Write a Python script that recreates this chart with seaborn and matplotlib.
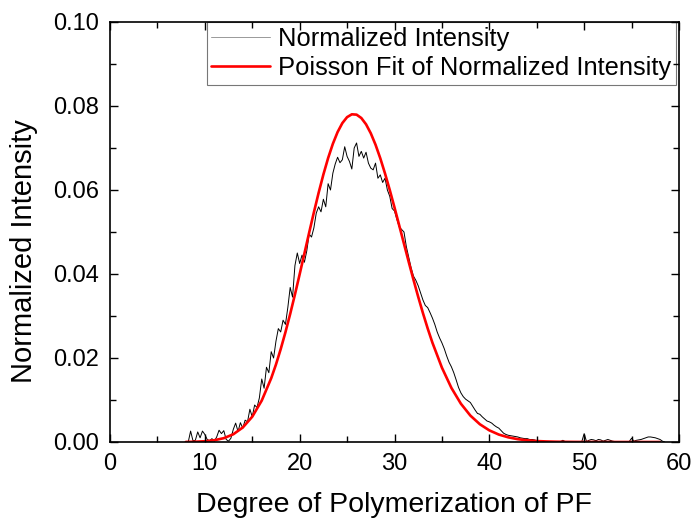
import numpy as np
import pandas as pd
import matplotlib
matplotlib.use("Agg")
import matplotlib.pyplot as plt
import seaborn as sns
from matplotlib.ticker import MultipleLocator

# ---- data ----
dp_measured = np.arange(8.25, 58.51, 0.25)
intensity = [
    0.0000, 0.0026, 0.0003, 0.0004, 0.0024, 0.0010, 0.0026, 0.0018,   # 8.25 - 10.0
    0.0006, 0.0003, 0.0008, 0.0002, 0.0012, 0.0028, 0.0020, 0.0027,   # 10.25 - 12.0
    0.0006, 0.0002, 0.0009, 0.0030, 0.0045, 0.0025, 0.0046, 0.0033,   # 12.25 - 14.0
    0.0052, 0.0048, 0.0078, 0.0060, 0.0088, 0.0082, 0.0105, 0.0150,   # 14.25 - 16.0
    0.0128, 0.0178, 0.0165, 0.0215, 0.0200, 0.0240, 0.0270, 0.0262,   # 16.25 - 18.0
    0.0290, 0.0280, 0.0320, 0.0368, 0.0345, 0.0420, 0.0450, 0.0425,   # 18.25 - 20.0
    0.0445, 0.0428, 0.0455, 0.0495, 0.0488, 0.0510, 0.0545, 0.0560,   # 20.25 - 22.0
    0.0548, 0.0578, 0.0560, 0.0615, 0.0600, 0.0640, 0.0662, 0.0678,   # 22.25 - 24.0
    0.0665, 0.0672, 0.0703, 0.0680, 0.0668, 0.0650, 0.0700, 0.0712,   # 24.25 - 26.0
    0.0680, 0.0692, 0.0676, 0.0690, 0.0664, 0.0652, 0.0648, 0.0664,   # 26.25 - 28.0
    0.0628, 0.0636, 0.0618, 0.0628, 0.0600, 0.0585, 0.0556, 0.0550,   # 28.25 - 30.0
    0.0530, 0.0512, 0.0506, 0.0500, 0.0465, 0.0440, 0.0415, 0.0395,   # 30.25 - 32.0
    0.0385, 0.0372, 0.0355, 0.0338, 0.0325, 0.0320, 0.0308, 0.0295,   # 32.25 - 34.0
    0.0280, 0.0262, 0.0248, 0.0236, 0.0222, 0.0205, 0.0190, 0.0179,   # 34.25 - 36.0
    0.0165, 0.0148, 0.0130, 0.0117, 0.0108, 0.0102, 0.0098, 0.0094,   # 36.25 - 38.0
    0.0085, 0.0076, 0.0068, 0.0066, 0.0060, 0.0055, 0.0050, 0.0048,   # 38.25 - 40.0
    0.0045, 0.0040, 0.0036, 0.0033, 0.0027, 0.0021, 0.0018, 0.0016,   # 40.25 - 42.0
    0.0015, 0.0014, 0.0013, 0.0012, 0.0010, 0.0009, 0.0008, 0.0008,   # 42.25 - 44.0
    0.0006, 0.0006, 0.0005, 0.0003, 0.0001, 0.0001, 0.0000, 0.0001,   # 44.25 - 46.0
    0.0000, 0.0001, 0.0000, 0.0001, 0.0000, 0.0001, 0.0004, 0.0001,   # 46.25 - 48.0
    0.0000, 0.0001, 0.0000, 0.0001, 0.0000, 0.0001, 0.0001, 0.0020,   # 48.25 - 50.0
    0.0001, 0.0004, 0.0006, 0.0005, 0.0003, 0.0006, 0.0005, 0.0002,   # 50.25 - 52.0
    0.0004, 0.0006, 0.0004, 0.0002, 0.0001, 0.0001, 0.0000, 0.0001,   # 52.25 - 54.0
    0.0000, 0.0001, 0.0001, 0.0009, 0.0002, 0.0004, 0.0005, 0.0006,   # 54.25 - 56.0
    0.0008, 0.0010, 0.0012, 0.0012, 0.0011, 0.0010, 0.0008, 0.0006,   # 56.25 - 58.0
    0.0002, 0.0000,                                                   # 58.25 - 58.5
]

dp_fit = [8, 9, 10, 11, 12, 13, 14, 15, 16, 17, 17.5, 18, 18.5, 19, 19.5,
          20, 20.5, 21, 21.5, 22, 22.5, 23, 23.5, 24, 24.5, 25, 25.5, 26,
          26.5, 27, 27.5, 28, 28.5, 29, 29.5, 30, 30.5, 31, 31.5, 32, 32.5,
          33, 33.5, 34, 35, 36, 37, 38, 39, 40, 41, 42, 43, 44, 45, 46, 47,
          48, 49, 50, 51, 52, 53, 54, 55, 56, 57, 58]
poisson_fit = [0.00002, 0.00007, 0.00018, 0.00042, 0.00091, 0.00184, 0.00345,
               0.00602, 0.00986, 0.01519, 0.01845, 0.02211, 0.02614, 0.03049,
               0.03511, 0.03995, 0.04489, 0.04984, 0.05469, 0.05934, 0.06368,
               0.06760, 0.07100, 0.07380, 0.07593, 0.07735, 0.07802, 0.07794,
               0.07714, 0.07564, 0.07350, 0.07078, 0.06756, 0.06393, 0.06000,
               0.05584, 0.05154, 0.04719, 0.04287, 0.03864, 0.03456, 0.03068,
               0.02703, 0.02364, 0.01770, 0.01288, 0.00912, 0.00629, 0.00423,
               0.00277, 0.00177, 0.00111, 0.00067, 0.00040, 0.00023, 0.00013,
               0.00007, 0.00004, 0.00002, 0.00001, 0.00001, 0.00000, 0.00000,
               0.00000, 0.00000, 0.00000, 0.00000, 0.00000]

x_ticks = [0, 10, 20, 30, 40, 50, 60]
y_ticks = [0.00, 0.02, 0.04, 0.06, 0.08, 0.10]

df_meas = pd.DataFrame({"dp": dp_measured, "val": intensity})
df_fit = pd.DataFrame({"dp": dp_fit, "val": poisson_fit})

sns.set_theme(style="ticks")
plt.rcParams["font.family"] = ["Liberation Sans", "DejaVu Sans"]
plt.rcParams["text.color"] = "black"
plt.rcParams["axes.labelcolor"] = "black"
plt.rcParams["xtick.color"] = "black"
plt.rcParams["ytick.color"] = "black"
plt.rcParams["axes.edgecolor"] = "black"

fig = plt.figure(figsize=(6.95, 5.23), dpi=100)
ax = fig.add_axes([110 / 695, 1 - 442 / 523, 569 / 695, 420 / 523])

sns.lineplot(data=df_meas, x="dp", y="val", ax=ax, color="black", linewidth=0.7,
             label="Normalized Intensity")
sns.lineplot(data=df_fit, x="dp", y="val", ax=ax, color="#ff0000", linewidth=1.9,
             label="Poisson Fit of Normalized Intensity")

ax.set_xlim(0, 60)
ax.set_ylim(0, 0.10)
ax.set_xticks(x_ticks)
ax.set_yticks(y_ticks)
ax.set_xticklabels([str(v) for v in x_ticks])
ax.set_yticklabels([f"{v:.2f}" for v in y_ticks])
ax.xaxis.set_minor_locator(MultipleLocator(5))
ax.yaxis.set_minor_locator(MultipleLocator(0.01))
ax.tick_params(which="both", direction="in", top=True, right=True, width=1.0,
               color="black", labelcolor="black")
ax.tick_params(which="major", length=6, labelsize=17, pad=8)
ax.tick_params(which="minor", length=4)
for s in ax.spines.values():
    s.set_linewidth(1.2)
    s.set_color("black")
ax.set_axisbelow(False)

ax.set_xlabel("Degree of Polymerization of PF", fontsize=20.5, labelpad=12)
ax.set_ylabel("Normalized Intensity", fontsize=21)
ax.yaxis.set_label_coords(-0.127, 0.455)

leg = ax.legend(loc="upper right", bbox_to_anchor=(0.994, 1.0), borderaxespad=0,
                fontsize=18.4, frameon=True, fancybox=False, handlelength=2.3,
                handletextpad=0.3, labelspacing=0.22, borderpad=0.18)
leg.get_frame().set_edgecolor("#555555")
leg.get_frame().set_linewidth(0.8)
leg.get_lines()[0].set_color("#999999")
leg.set_zorder(1.0)
for t in leg.get_texts():
    t.set_color("black")

fig.savefig("out.png", dpi=100)
